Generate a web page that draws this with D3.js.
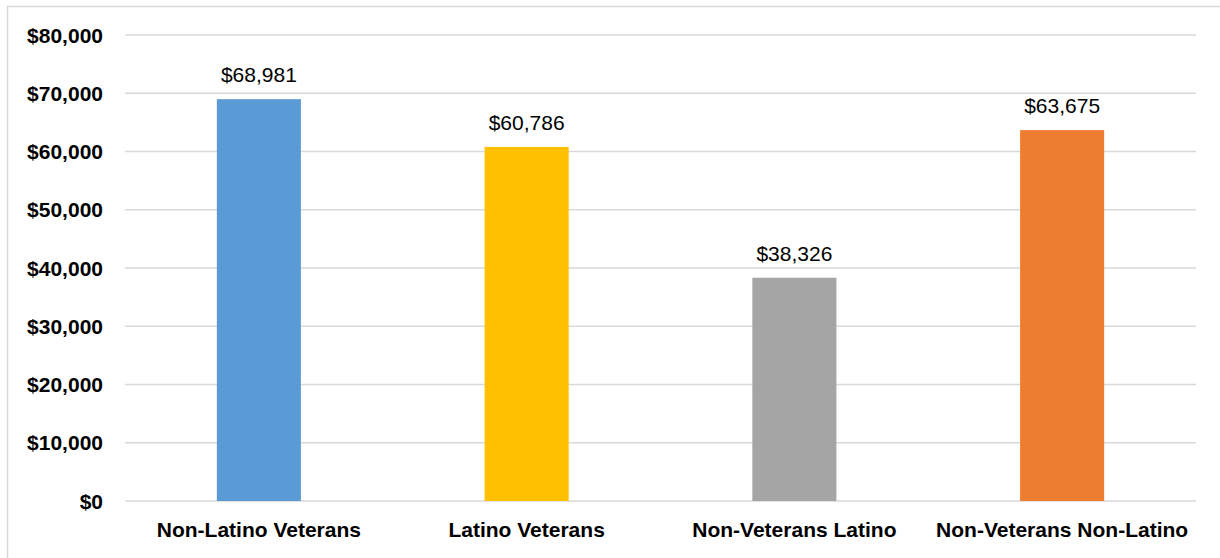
<!DOCTYPE html>
<html>
<head>
<meta charset="utf-8">
<script src="https://cdn.jsdelivr.net/npm/d3@7"></script>
<style>
  html, body { margin: 0; padding: 0; background: #fff; }
  svg { display: block; font-family: "Liberation Sans", Arial, sans-serif; }
</style>
</head>
<body>
<svg id="chart" width="1220" height="558"></svg>
<script>
// Median income by veteran status and ethnicity
const categories = ["Non-Latino Veterans", "Latino Veterans", "Non-Veterans Latino", "Non-Veterans Non-Latino"];
const incomes = [68981, 60786, 38326, 63675];
const barColors = ["#5B9BD5", "#FFC000", "#A5A5A5", "#ED7D31"];
const yTicks = [0, 10000, 20000, 30000, 40000, 50000, 60000, 70000, 80000];

const svg = d3.select("#chart");
const plot = { left: 125, right: 1196, top: 35, bottom: 501 };

// chart frame
svg.append("rect")
  .attr("x", 7.5).attr("y", 6.5)
  .attr("width", 1230).attr("height", 580)
  .attr("fill", "none").attr("stroke", "#D9D9D9").attr("stroke-width", 1.5);

const x = d3.scaleBand().domain(categories).range([plot.left, plot.right]).padding(0);
const y = d3.scaleLinear().domain([0, 80000]).range([plot.bottom, plot.top]);
const barW = x.bandwidth() * 0.314;
const fmt = d3.format("$,");

// gridlines
svg.append("g").selectAll("line").data(yTicks).join("line")
  .attr("x1", plot.left).attr("x2", plot.right)
  .attr("y1", d => y(d)).attr("y2", d => y(d))
  .attr("stroke", "#D9D9D9").attr("stroke-width", 1.5);

// y tick labels
svg.append("g").selectAll("text").data(yTicks).join("text")
  .attr("x", 103).attr("y", d => y(d))
  .attr("dy", "0.36em")
  .attr("text-anchor", "end")
  .attr("font-size", 21).attr("font-weight", "bold").attr("fill", "#000")
  .text(d => fmt(d));

// bars
svg.append("g").selectAll("rect").data(incomes).join("rect")
  .attr("x", (d, i) => x(categories[i]) + x.bandwidth() / 2 - barW / 2)
  .attr("width", barW)
  .attr("y", d => y(d))
  .attr("height", d => y(0) - y(d))
  .attr("fill", (d, i) => barColors[i]);

// value labels
svg.append("g").selectAll("text").data(incomes).join("text")
  .attr("x", (d, i) => x(categories[i]) + x.bandwidth() / 2)
  .attr("y", d => y(d) - 17)
  .attr("text-anchor", "middle")
  .attr("font-size", 21).attr("fill", "#000")
  .text(d => fmt(d));

// category labels
svg.append("g").selectAll("text").data(categories).join("text")
  .attr("x", d => x(d) + x.bandwidth() / 2)
  .attr("y", 537)
  .attr("text-anchor", "middle")
  .attr("font-size", 21).attr("font-weight", "bold").attr("fill", "#000")
  .text(d => d);
</script>
</body>
</html>
